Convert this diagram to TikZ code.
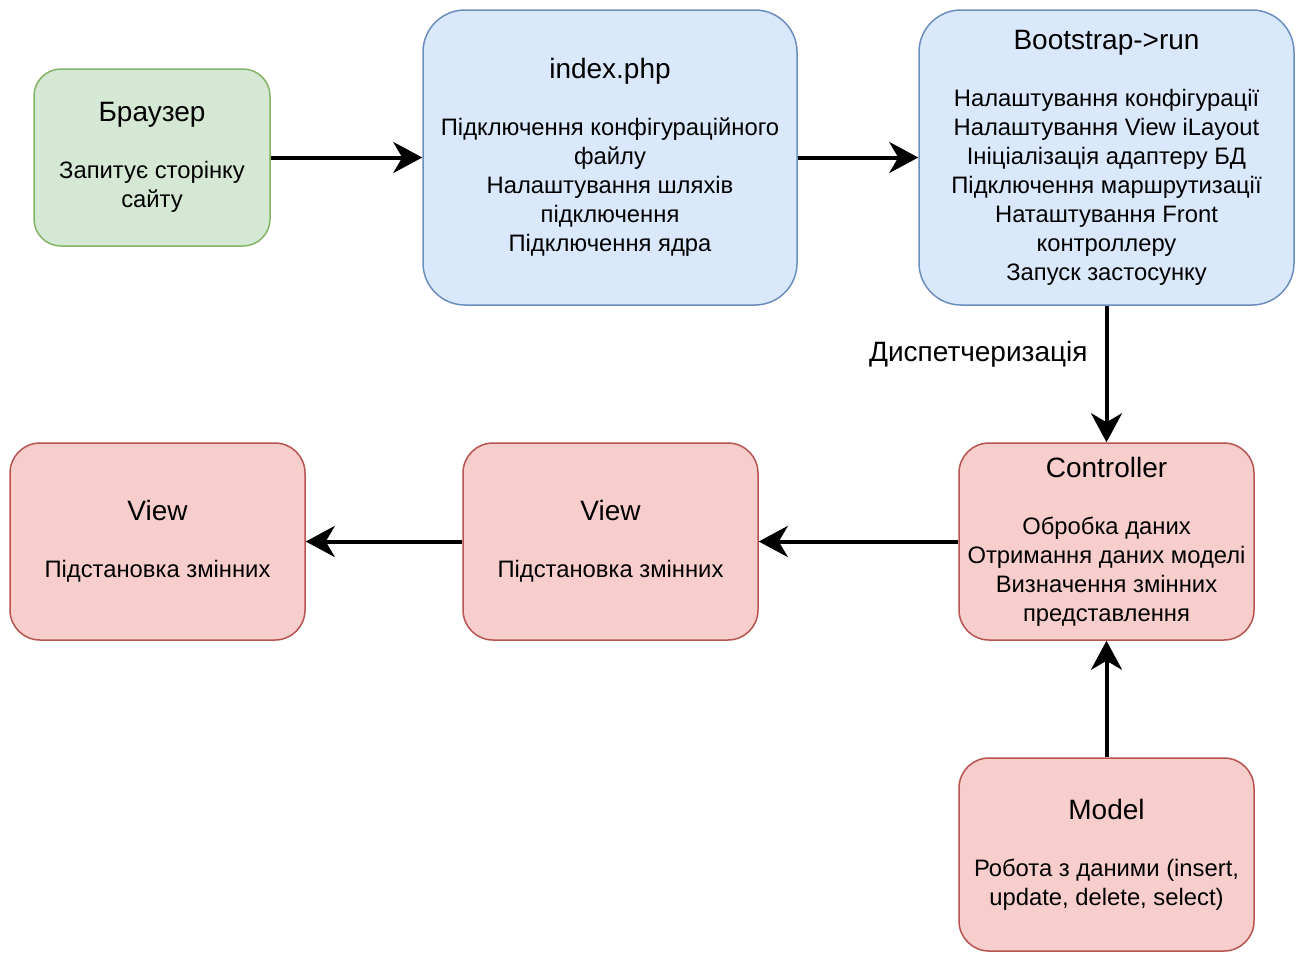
\documentclass[tikz,border=0pt]{standalone}
\usepackage{fontspec}
\setmainfont{Liberation Sans}
\usetikzlibrary{arrows.meta}
\definecolor{gfill}{HTML}{D5E8D4}
\definecolor{gline}{HTML}{82B366}
\definecolor{bfill}{HTML}{DAE8FC}
\definecolor{bline}{HTML}{6C8EBF}
\definecolor{rfill}{HTML}{F8CECC}
\definecolor{rline}{HTML}{B85450}
\newcommand\boxtitle[1]{{\fontsize{28}{29}\selectfont #1}\\[28pt]}
\tikzset{
  basebox/.style={draw, line width=1.5pt, align=center, inner sep=0pt,
    font=\fontsize{23.8}{29}\selectfont},
  greenbox/.style={basebox, fill=gfill, draw=gline},
  bluebox/.style={basebox, fill=bfill, draw=bline},
  redbox/.style={basebox, fill=rfill, draw=rline},
  flow/.style={line width=4pt, -{Stealth[length=29pt,width=31pt,inset=9pt]}},
  edgelabel/.style={font=\fontsize{28}{30}\selectfont, inner sep=0pt},
}
\begin{document}
\begin{tikzpicture}[x=1pt,y=-1pt]
\useasboundingbox[fill=white] (0,0) rectangle (1300,953);

\node[greenbox, minimum width=236pt, minimum height=177pt, rounded corners=27pt] (br) at (152,157.5)
  {\boxtitle{Браузер}Запитує сторінку\\сайту};

\node[bluebox, minimum width=374pt, minimum height=295pt, rounded corners=42pt] (idx) at (610,157.5)
  {\boxtitle{index.php}Підключення конфігураційного\\файлу\\Налаштування шляхів\\підключення\\Підключення ядра};

\node[bluebox, minimum width=375pt, minimum height=295pt, rounded corners=42pt] (bs) at (1106.5,157.5)
  {\boxtitle{Bootstrap->run}Налаштування конфігурації\\Налаштування View iLayout\\Ініціалізація адаптеру БД\\Підключення маршрутизації\\Наташтування Front\\контроллеру\\Запуск застосунку};

\node[redbox, minimum width=295pt, minimum height=197pt, rounded corners=30pt] (ctl) at (1106.5,541.5)
  {\boxtitle{Controller}Обробка даних\\Отримання даних моделі\\Визначення змінних\\представлення};

\node[redbox, minimum width=295pt, minimum height=197pt, rounded corners=30pt] (vm) at (610.5,541.5)
  {\boxtitle{View}Підстановка змінних};

\node[redbox, minimum width=295pt, minimum height=197pt, rounded corners=30pt] (vl) at (157.5,541.5)
  {\boxtitle{View}Підстановка змінних};

\node[redbox, minimum width=295pt, minimum height=193pt, rounded corners=30pt] (mdl) at (1106.5,854.5)
  {\boxtitle{Model}Робота з даними (insert,\\update, delete, select)};

\draw[flow] (br.east) -- (idx.west);
\draw[flow] (idx.east) -- (bs.west);
\draw[flow] (bs.south) -- node[pos=0.355, left=17pt, edgelabel] (lbl) {Диспетчеризація} (ctl.north);
\draw[flow] (ctl.west) -- (vm.east);
\draw[flow] (vm.west) -- (vl.east);
\draw[flow] (mdl.north) -- (ctl.south);
\end{tikzpicture}
\end{document}
